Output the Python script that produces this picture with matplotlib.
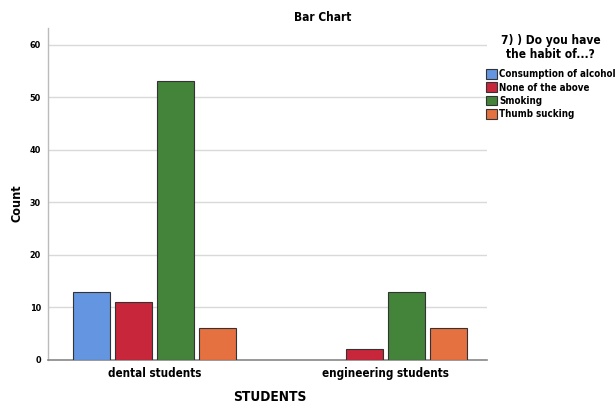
import numpy as np
import matplotlib.pyplot as plt
from matplotlib.patches import Patch

groups = ['dental students', 'engineering students']
habits = ['Consumption of alcohol', 'None of the above', 'Smoking', 'Thumb sucking']
counts = {
    'Consumption of alcohol': [13, 0],
    'None of the above': [11, 2],
    'Smoking': [53, 13],
    'Thumb sucking': [6, 6],
}
colors = ['#6495E0', '#C8263A', '#43833A', '#E57040']
yticks = [0, 10, 20, 30, 40, 50, 60]

plt.rcParams['font.family'] = ['DejaVu Sans']
plt.rcParams['font.stretch'] = 'condensed'
plt.rcParams['font.weight'] = 'bold'

fig = plt.figure(figsize=(6.16, 4.04), dpi=100)
ax = fig.add_axes([0.078, 0.109, 0.713, 0.822])

x = np.arange(len(groups))
width = 0.16
step = 0.182
for i, habit in enumerate(habits):
    vals = np.array(counts[habit])
    pos = x + (i - 1.5) * step
    mask = vals > 0
    ax.bar(pos[mask], vals[mask], width=width, color=colors[i],
           edgecolor='#333333', linewidth=0.8, zorder=3)

ax.set_xlim(-0.462, 1.443)
ax.set_ylim(0, 63.2)
ax.set_yticks(yticks)
ax.set_yticklabels([str(t) for t in yticks], fontsize=6.5, fontweight='bold')
ax.set_xticks(x)
ax.set_xticklabels(groups, fontsize=8.4, fontweight='bold')
ax.tick_params(axis='x', length=0, pad=5)
ax.tick_params(axis='y', length=0, pad=5)
ax.yaxis.grid(True, color='#D9D9D9', linewidth=1.0, zorder=0)
ax.set_axisbelow(True)

for side in ['top', 'right']:
    ax.spines[side].set_visible(False)
ax.spines['left'].set_color('#BBBBBB')
ax.spines['bottom'].set_color('#888888')
ax.spines['left'].set_linewidth(1.0)
ax.spines['bottom'].set_linewidth(1.2)

fig.text(0.524, 0.957, 'Bar Chart', fontsize=8.6, fontweight='bold',
         ha='center', va='center')
fig.text(0.028, 0.497, 'Count', fontsize=9, fontweight='bold',
         ha='center', va='center', rotation=90)
fig.text(0.438, 0.017, 'STUDENTS', fontsize=9.8, fontweight='bold',
         ha='center', va='center')

handles = [Patch(facecolor=c, edgecolor='#333333', linewidth=0.8) for c in colors]
leg = fig.legend(handles, habits, loc='upper left', bbox_to_anchor=(0.789, 0.915),
                 title='7) ) Do you have\nthe habit of...?', frameon=False,
                 fontsize=7, handlelength=1.15, handleheight=1.15,
                 handletextpad=0.2, labelspacing=0.33, borderaxespad=0,
                 borderpad=0)
leg.get_title().set_fontsize(8.6)
leg.get_title().set_fontweight('bold')
leg.get_title().set_multialignment('center')
leg.get_title().set_linespacing(1.05)
leg._legend_box.align = 'center'
leg._legend_box.sep = 6

fig.savefig('out.png', dpi=100)
